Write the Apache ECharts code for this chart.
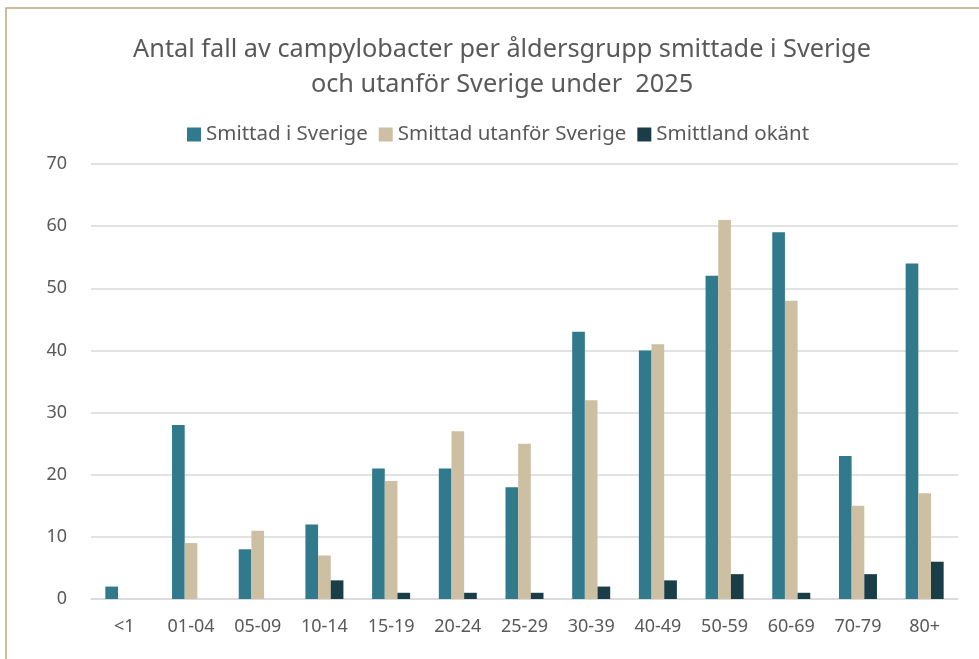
<!DOCTYPE html>
<html>
<head>
<meta charset="utf-8">
<script src="https://cdn.jsdelivr.net/npm/echarts@6/dist/echarts.min.js"></script>
<style>
  html, body { margin: 0; padding: 0; background: #fff; }
  #chart { width: 979px; height: 659px; }
</style>
</head>
<body>
<div id="chart"></div>
<script>
// åldersgrupper
const categories = ["<1", "01-04", "05-09", "10-14", "15-19", "20-24", "25-29", "30-39", "40-49", "50-59", "60-69", "70-79", "80+"];
// antal fall per serie
const smittadSverige = [2, 28, 8, 12, 21, 21, 18, 43, 40, 52, 59, 23, 54];
const smittadUtanfor = [0, 9, 11, 7, 19, 27, 25, 32, 41, 61, 48, 15, 17];
const smittlandOkant = [0, 0, 0, 3, 1, 1, 1, 2, 3, 4, 1, 4, 6];
const seriesNames = ["Smittad i Sverige", "Smittad utanför Sverige", "Smittland okänt"];

const font = "'Noto Sans', 'Open Sans', sans-serif";
const textColor = "#595959";

let myChart = echarts.init(document.getElementById("chart"));

let option = {
  animation: false,
  color: ["#31798C", "#CDBFA2", "#1A3E48"],
  // ram runt diagrammet
  graphic: [
    {
      type: "rect",
      shape: { x: 6, y: 8, width: 1100, height: 800 },
      style: { fill: "none", stroke: "#BBA97E", lineWidth: 1.5 },
      silent: true,
    },
  ],
  title: {
    text: "Antal fall av campylobacter per åldersgrupp smittade i Sverige\noch utanför Sverige under  2025",
    left: 497,
    top: 27,
    textAlign: "center",
    textStyle: {
      fontFamily: font,
      fontSize: 25.3,
      fontWeight: "normal",
      color: textColor,
      lineHeight: 35,
    },
  },
  legend: {
    data: seriesNames,
    left: 182,
    top: 119,
    itemWidth: 14,
    itemHeight: 14,
    itemGap: 11,
    icon: "rect",
    textStyle: { fontFamily: font, fontSize: 20.5, color: textColor },
  },
  grid: {
    left: 91,
    right: 21,
    top: 164,
    bottom: 60,
  },
  xAxis: {
    type: "category",
    data: categories,
    axisTick: { show: false },
    axisLine: { lineStyle: { color: "#D9D9D9", width: 1.5 } },
    axisLabel: { fontFamily: font, fontSize: 18, color: textColor, margin: 19 },
  },
  yAxis: {
    type: "value",
    min: 0,
    max: 70,
    interval: 10,
    axisLine: { show: false },
    axisTick: { show: false },
    axisLabel: { fontFamily: font, fontSize: 18, color: textColor, margin: 24 },
    splitLine: { lineStyle: { color: "#D9D9D9", width: 1.5 } },
  },
  series: [
    {
      name: seriesNames[0],
      type: "bar",
      data: smittadSverige,
      barGap: "0%",
      barCategoryGap: "43%",
    },
    {
      name: seriesNames[1],
      type: "bar",
      data: smittadUtanfor,
    },
    {
      name: seriesNames[2],
      type: "bar",
      data: smittlandOkant,
    },
  ],
};

myChart.setOption(option);
</script>
</body>
</html>
